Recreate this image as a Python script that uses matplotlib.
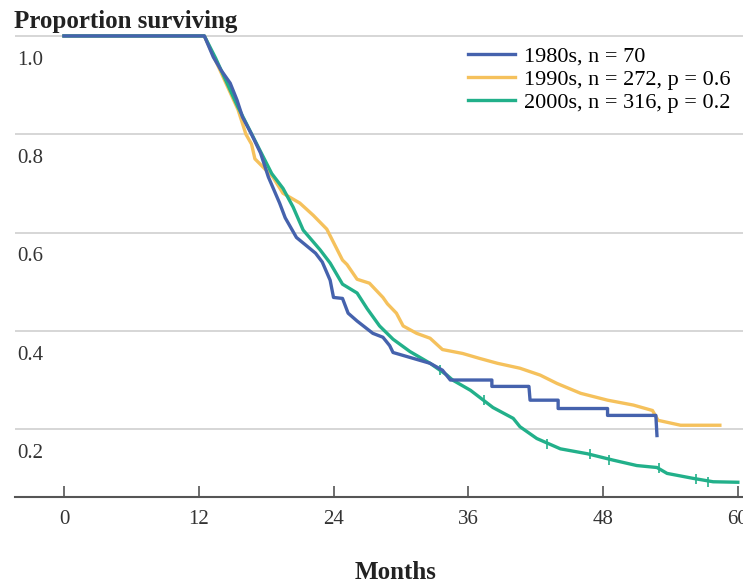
import matplotlib.pyplot as plt

# Kaplan-Meier curves (months, proportion surviving)
t80 = [0, 12.5, 13.3, 14.0, 14.8, 15.4, 15.9, 16.7, 17.5, 18.2, 19.2, 19.7, 20.7, 21.5,
       22.4, 23.0, 23.7, 24.0, 24.8, 25.3, 26.1, 27.5, 28.4, 29.0, 29.3, 30.8, 32.6, 33.7,
       34.4, 38.1, 38.1, 41.4, 41.5, 44.0, 44.0, 48.4, 48.4, 52.7, 52.8]
s80 = [1.0, 1.0, 0.957, 0.93, 0.904, 0.87, 0.835, 0.80, 0.762, 0.713, 0.66, 0.63, 0.59, 0.575,
       0.558, 0.54, 0.503, 0.468, 0.466, 0.436, 0.42, 0.395, 0.387, 0.37, 0.356, 0.346, 0.334, 0.32,
       0.30, 0.30, 0.287, 0.287, 0.259, 0.259, 0.242, 0.242, 0.228, 0.228, 0.187]

t90 = [0, 12.5, 13.5, 14.5, 15.5, 16.2, 16.7, 17.0, 18.6, 19.5, 21.0, 22.2, 23.4, 24.0,
       24.8, 25.2, 26.1, 27.2, 28.4, 28.8, 29.6, 30.2, 31.4, 32.6, 33.7, 35.5, 37.0, 38.6,
       40.6, 42.4, 43.9, 46.0, 48.4, 50.7, 52.4, 52.9, 54.9, 58.4]
s90 = [1.0, 1.0, 0.95, 0.90, 0.85, 0.80, 0.78, 0.75, 0.713, 0.68, 0.66, 0.635, 0.607, 0.58,
       0.544, 0.535, 0.505, 0.497, 0.468, 0.455, 0.436, 0.41, 0.395, 0.385, 0.362, 0.354, 0.344, 0.334,
       0.324, 0.31, 0.293, 0.273, 0.259, 0.249, 0.238, 0.218, 0.208, 0.208]

t00 = [0, 12.5, 13.5, 14.5, 15.5, 16.5, 17.5, 18.5, 19.5, 20.4, 21.3, 22.8, 23.7, 24.8,
       26.1, 27.0, 28.1, 29.3, 30.8, 32.6, 34.1, 34.6, 36.2, 38.2, 40.0, 40.6, 42.1, 44.2,
       46.6, 48.9, 51.0, 52.8, 53.7, 56.0, 57.8, 60.0]
s00 = [1.0, 1.0, 0.955, 0.905, 0.855, 0.81, 0.765, 0.72, 0.69, 0.652, 0.605, 0.565, 0.538, 0.495,
       0.477, 0.445, 0.41, 0.383, 0.358, 0.334, 0.31, 0.30, 0.279, 0.244, 0.222, 0.205, 0.181, 0.16,
       0.15, 0.137, 0.126, 0.122, 0.11, 0.10, 0.093, 0.092]

# censor marks on the green curve
c00_t = [33.5, 37.4, 43.0, 46.8, 48.5, 53.0, 56.3, 57.3]
c00_s = [0.32, 0.26, 0.17, 0.15, 0.138, 0.121, 0.099, 0.093]

labels = ['1980s, n = 70', '1990s, n = 272, p = 0.6', '2000s, n = 316, p = 0.2']
colors = ['#4562ad', '#f5c15c', '#22b08a']
yticks = [0.2, 0.4, 0.6, 0.8, 1.0]
xticks = [0, 12, 24, 36, 48, 60]

plt.rcParams['font.family'] = ['Liberation Serif', 'DejaVu Serif']

fig = plt.figure(figsize=(7.43, 5.85), dpi=100)
ax = fig.add_axes([15 / 743, 88 / 585, 728 / 743, (585 - 88 - 33.5) / 585])

ax.plot(t80, s80, color=colors[0], lw=2.4, label=labels[0], zorder=4)
ax.plot(t90, s90, color=colors[1], lw=2.4, label=labels[1], zorder=2)
ax.plot(t00, s00, color=colors[2], lw=2.4, label=labels[2], zorder=3)
ax.plot(c00_t, c00_s, ls='none', marker='|', ms=7, mew=1.2, color=colors[2], zorder=3)

ax.set_xlim(-4.36, 60.46)
ax.set_ylim(0.062, 1.005)

# grid lines and y labels sitting under them
for v in yticks:
    ax.axhline(v, color='#cccccc', lw=1.1, zorder=1)
    ax.text(-4.2, v - 0.03, f'{v:.1f}', ha='left', va='top', fontsize=15, color='#333333')
ax.set_yticks([])

for side in ['left', 'right', 'top']:
    ax.spines[side].set_visible(False)
ax.spines['bottom'].set_color('#555555')
ax.spines['bottom'].set_linewidth(1.5)

ax.set_xticks(xticks)
ax.set_xticklabels([str(x) for x in xticks])
ax.tick_params(axis='x', direction='in', length=8, width=1.2, color='#555555',
               labelsize=15, labelcolor='#333333', pad=9)

fig.text(396 / 743, 6 / 585, 'Months', ha='center', va='baseline',
         fontsize=18, fontweight='bold', color='#222222')
fig.text(14 / 743, (585 - 28) / 585, 'Proportion surviving', ha='left', va='baseline',
         fontsize=18, fontweight='bold', color='#222222')

ax.legend(loc='upper right', bbox_to_anchor=(730 / 743, (585 - 46) / 585),
          bbox_transform=fig.transFigure, frameon=False, fontsize=16,
          handlelength=2.1, handletextpad=0.4, labelspacing=0.12, borderpad=0,
          borderaxespad=0)

plt.savefig('out.png', dpi=100)
